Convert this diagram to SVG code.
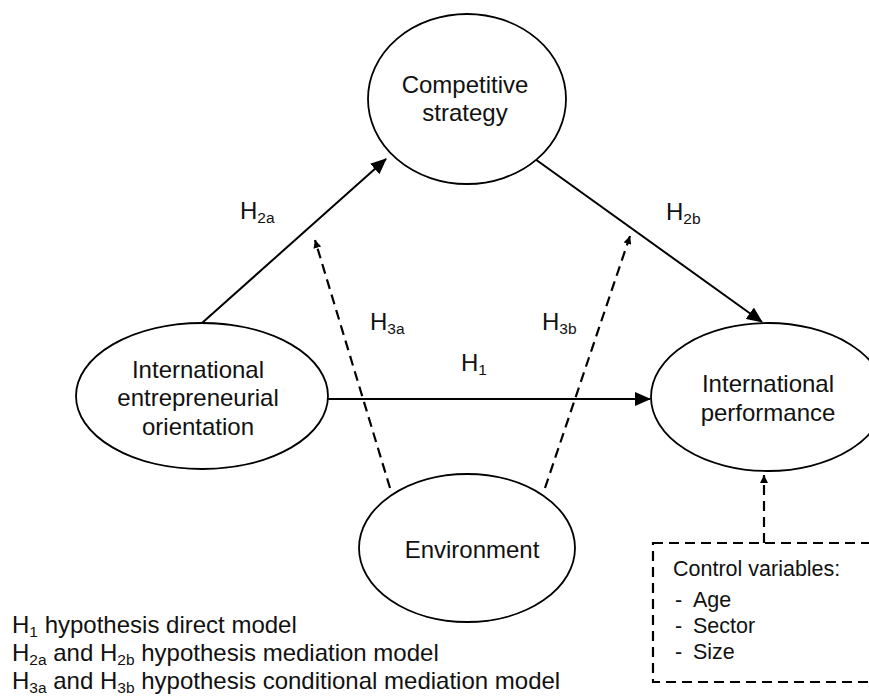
<svg xmlns="http://www.w3.org/2000/svg" width="869" height="699" viewBox="0 0 869 699">
<defs>
<style>
.node{fill:#fff;stroke:#000;stroke-width:1.8}
.t{font-family:"Liberation Sans",Arial,Helvetica,sans-serif;font-size:24px;fill:#111;text-anchor:middle}
.l{font-family:"Liberation Sans",Arial,Helvetica,sans-serif;font-size:24px;fill:#111}
.s{font-size:15.5px}
.c{font-family:"Liberation Sans",Arial,Helvetica,sans-serif;font-size:21.5px;fill:#111}
.edge{fill:none;stroke:#000;stroke-width:2}
.dash{fill:none;stroke:#000;stroke-width:2.2;stroke-dasharray:10 6}
</style>
<marker id="ah" markerWidth="16" markerHeight="14" refX="15" refY="7" orient="auto" markerUnits="userSpaceOnUse">
<path d="M0,0 L16,7 L0,14 Z" fill="#000"/>
</marker>
<marker id="ahs" markerWidth="8" markerHeight="8" refX="8" refY="4" orient="auto" markerUnits="userSpaceOnUse">
<path d="M0,0 L8,4 L0,8 Z" fill="#000"/>
</marker>
</defs>
<rect width="869" height="699" fill="#fff"/>

<g id="connectors">
<line class="edge" x1="202" y1="323" x2="386" y2="159" marker-end="url(#ah)"/>
<line class="edge" x1="535" y1="159" x2="762" y2="322" marker-end="url(#ah)"/>
<line class="edge" x1="328" y1="399" x2="650" y2="399" marker-end="url(#ah)"/>
<line class="dash" x1="390" y1="488" x2="315" y2="240" marker-end="url(#ahs)"/>
<line class="dash" x1="545" y1="488" x2="630" y2="236" marker-end="url(#ahs)"/>
<line class="dash" x1="764" y1="543" x2="764" y2="475" marker-end="url(#ahs)"/>
</g>

<g id="node-competitive-strategy">
<ellipse class="node" cx="467" cy="99" rx="99" ry="85"/>
<text class="t" x="465" y="93">Competitive</text>
<text class="t" x="465" y="121">strategy</text>
</g>

<g id="node-ieo">
<ellipse class="node" cx="202" cy="396" rx="126" ry="73"/>
<text class="t" x="198" y="378">International</text>
<text class="t" x="198" y="406">entrepreneurial</text>
<text class="t" x="198" y="435">orientation</text>
</g>

<g id="node-performance">
<ellipse class="node" cx="768" cy="397" rx="117" ry="74"/>
<text class="t" x="768" y="392">International</text>
<text class="t" x="768" y="421">performance</text>
</g>

<g id="node-environment">
<ellipse class="node" cx="467" cy="548" rx="108" ry="74"/>
<text class="t" x="472" y="558">Environment</text>
</g>

<g id="node-controls">
<rect x="653" y="543" width="230" height="139" fill="none" stroke="#000" stroke-width="2.2" stroke-dasharray="10 6"/>
<text class="c" x="673" y="576">Control variables:</text>
<text class="c" x="675" y="607">-</text><text class="c" x="693" y="607">Age</text>
<text class="c" x="675" y="633">-</text><text class="c" x="693" y="633">Sector</text>
<text class="c" x="675" y="659">-</text><text class="c" x="693" y="659">Size</text>
</g>

<g id="labels">
<text class="l" x="240" y="219">H<tspan class="s" dy="4">2a</tspan></text>
<text class="l" x="666" y="220">H<tspan class="s" dy="4">2b</tspan></text>
<text class="l" x="461" y="371">H<tspan class="s" dy="4">1</tspan></text>
<text class="l" x="370" y="330">H<tspan class="s" dy="4">3a</tspan></text>
<text class="l" x="542" y="330">H<tspan class="s" dy="4">3b</tspan></text>
</g>

<g id="legend">
<text class="l" x="12" y="633">H<tspan class="s" dy="4">1</tspan><tspan dy="-4"> hypothesis direct model</tspan></text>
<text class="l" x="12" y="661">H<tspan class="s" dy="4">2a</tspan><tspan dy="-4"> and H</tspan><tspan class="s" dy="4">2b</tspan><tspan dy="-4"> hypothesis mediation model</tspan></text>
<text class="l" x="12" y="689">H<tspan class="s" dy="4">3a</tspan><tspan dy="-4"> and H</tspan><tspan class="s" dy="4">3b</tspan><tspan dy="-4"> hypothesis conditional mediation model</tspan></text>
</g>
</svg>
